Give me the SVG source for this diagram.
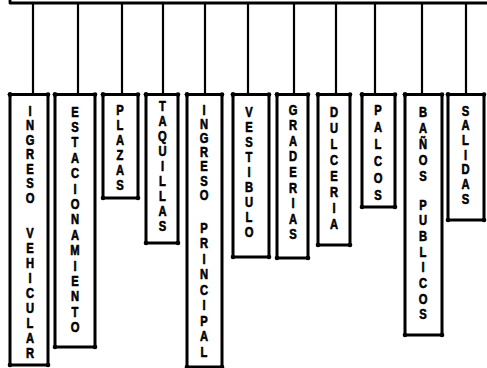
<svg xmlns="http://www.w3.org/2000/svg" width="487" height="368" viewBox="0 0 487 368">
  <style>
    .bar{fill:none;stroke:#000;stroke-width:2.8;stroke-linecap:round;stroke-linejoin:round}
    .conn{fill:none;stroke:#000;stroke-width:2.2}
    .box{fill:#fff;stroke:#000;stroke-width:3;stroke-linejoin:round;marker-start:url(#dot);marker-mid:url(#dot);marker-end:url(#dot)}
    .lbl{font-family:"Liberation Sans",Arial,sans-serif;font-weight:bold;font-size:14px;text-anchor:middle;fill:#000;stroke:#000;stroke-width:0.6;stroke-linejoin:round}
  </style>
  <defs>
    <marker id="dot" markerUnits="userSpaceOnUse" markerWidth="6" markerHeight="6" refX="3" refY="3" overflow="visible">
      <circle cx="3" cy="3" r="2.3" fill="#000"/>
    </marker>
  </defs>
  <rect width="487" height="368" fill="#fff"/>

  <!-- connectors: top bus and drops to each box -->
  <g id="connectors">
    <path class="bar" d="M10,0 V3 H487"/>
    <path class="conn" d="M33,3 V94 M78,3 V94 M122,3 V94 M163,3 V94 M205,3 V94 M248,3 V94 M294,3 V94 M336,3 V94 M375,3 V94 M422,3 V94 M466,3 V94"/>
  </g>

  <g id="ingreso-vehicular">
    <path class="box" d="M10,94.5 H48 V365 H10 Z"/>
    <text class="lbl" transform="scale(0.8 1)" x="37.5 37.5 37.5 37.5 37.5 37.5 37.5 37.5 37.5 37.5 37.5 37.5 37.5 37.5 37.5 37.5 37.5" y="115.6 130.1 144.6 159.1 173.6 188.1 202.6 220.6 237.6 252.6 267.6 282.6 297.6 312.6 327.6 342.6 357.6">INGRESO VEHICULAR</text>
  </g>

  <g id="estacionamiento">
    <path class="box" d="M55,94.5 H95 V347 H55 Z"/>
    <text class="lbl" transform="scale(0.8 1)" x="93.75 93.75 93.75 93.75 93.75 93.75 93.75 93.75 93.75 93.75 93.75 93.75 93.75 93.75 93.75" y="116.6 132 147.4 162.8 178.2 193.6 209 224.4 239.8 255.2 270.6 286 301.4 316.8 332.2">ESTACIONAMIENTO</text>
  </g>

  <g id="plazas">
    <path class="box" d="M103,94.5 H138 V198 H103 Z"/>
    <text class="lbl" transform="scale(0.8 1)" x="150 150 150 150 150 150" y="114.6 129.6 144.6 159.6 174.6 189.6">PLAZAS</text>
  </g>

  <g id="taquillas">
    <path class="box" d="M146,94.5 H178 V243 H146 Z"/>
    <text class="lbl" transform="scale(0.8 1)" x="203.1 203.1 203.1 203.1 203.1 203.1 203.1 203.1 203.1" y="110.6 125.6 140.6 155.6 170.6 185.6 200.6 215.6 230.6">TAQUILLAS</text>
  </g>

  <g id="ingreso-principal">
    <path class="box" d="M187,94.5 H222 V367 H187 Z"/>
    <text class="lbl" transform="scale(0.8 1)" x="255 255 255 255 255 255 255 255 255 255 255 255 255 255 255 255 255" y="114.6 128.8 143 157.2 171.4 185.6 199.8 216.2 232.6 248.1 263.6 279.1 294.6 310.1 325.6 341.1 356.6">INGRESO PRINCIPAL</text>
  </g>

  <g id="vestibulo">
    <path class="box" d="M233,94.5 H269 V257 H233 Z"/>
    <text class="lbl" transform="scale(0.8 1)" x="311.25 311.25 311.25 311.25 311.25 311.25 311.25 311.25 311.25" y="116.6 131.6 146.6 161.6 176.6 191.6 206.6 221.6 236.6">VESTIBULO</text>
  </g>

  <g id="graderias">
    <path class="box" d="M277,94.5 H308 V258 H277 Z"/>
    <text class="lbl" transform="scale(0.8 1)" x="366.25 366.25 366.25 366.25 366.25 366.25 366.25 366.25 366.25" y="114.6 130.2 145.8 161.4 177 192.6 208.2 223.8 239.4">GRADERIAS</text>
  </g>

  <g id="dulceria">
    <path class="box" d="M318,94.5 H350 V245 H318 Z"/>
    <text class="lbl" transform="scale(0.8 1)" x="417.5 417.5 417.5 417.5 417.5 417.5 417.5 417.5" y="116.6 132.6 148.6 164.6 180.6 196.6 212.6 228.6">DULCERIA</text>
  </g>

  <g id="palcos">
    <path class="box" d="M362,94.5 H395 V207 H362 Z"/>
    <text class="lbl" transform="scale(0.8 1)" x="472.5 472.5 472.5 472.5 472.5 472.5" y="114.6 131.6 148.6 165.6 182.6 199.6">PALCOS</text>
  </g>

  <g id="banos-publicos">
    <path class="box" d="M405,94.5 H442 V335 H405 Z"/>
    <text class="lbl" transform="scale(0.8 1)" x="528.75 528.75 528.75 528.75 528.75 528.75 528.75 528.75 528.75 528.75 528.75 528.75 528.75 528.75" y="116.6 132.6 148.6 164.6 180.6 195.1 209.6 225.3 241 256.7 272.4 288.1 303.8 319.5">BAÑOS PUBLICOS</text>
  </g>

  <g id="salidas">
    <path class="box" d="M448,94.5 H484 V220 H448 Z"/>
    <text class="lbl" transform="scale(0.8 1)" x="581.9 581.9 581.9 581.9 581.9 581.9 581.9" y="115.6 130.3 145 159.7 174.4 189.1 203.8">SALIDAS</text>
  </g>
</svg>
